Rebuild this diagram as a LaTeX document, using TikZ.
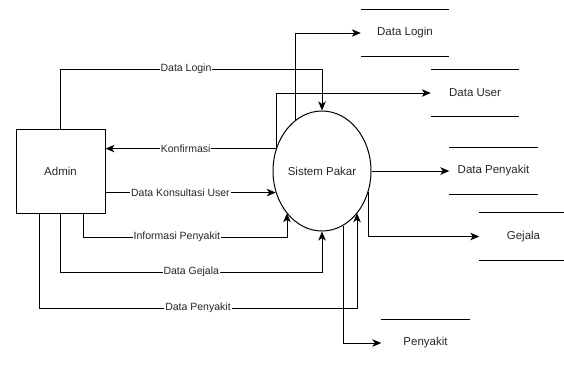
\documentclass[tikz,border=0pt]{standalone}
\usepackage{fontspec}
\setmainfont{Liberation Sans}
\usetikzlibrary{shapes.geometric,arrows.meta,positioning}
\tikzstyle{entity} = [rectangle, draw=black, line width=1pt, minimum width=89pt, minimum height=84pt, text centered, text=black!85, font=\fontsize{11.5}{13}\selectfont]
\tikzstyle{process} = [ellipse, draw=black, line width=1pt, minimum width=98pt, minimum height=120pt, inner sep=0pt, text centered, text=black!85, font=\fontsize{11.5}{13}\selectfont]
\tikzstyle{store} = [rectangle, minimum width=88pt, minimum height=47pt, text centered, text=black!85, font=\fontsize{11.5}{13}\selectfont]
\tikzstyle{flow} = [fill=white, inner sep=1pt, text=black!85, font=\fontsize{10.5}{12}\selectfont]
\tikzstyle{arrow} = [line width=1pt, ->, >={Stealth[length=9pt,width=7.5pt,inset=2.5pt]}]

\begin{document}
\begin{tikzpicture}[x=1pt,y=-1pt]
		\clip (0,0) rectangle (564,365);
		\coordinate (admin) at (60.5,171);
		\coordinate (sistem) at (322,171);
		\coordinate (dlogin) at (405,33);
		\coordinate (duser) at (475,93);
		\coordinate (dpenyakit) at (493.5,171);
		\coordinate (gejala) at (523.5,236.5);
		\coordinate (penyakit) at (425.5,343);
		% bends of the flows from Admin
		\coordinate (loginbend) at (322,69);
		\coordinate (infobend) at (287,237);
		\coordinate (gejalabend) at (322,272);
		\coordinate (penyakitbend) at (357,308);
		% Entity and process
		\node[entity, name=admin] at (admin) {Admin};
		\node[process, name=sistem] at (sistem) {Sistem Pakar};
		% Data stores
		\node[store, name=dlogin] at (dlogin) {Data Login};
		\node[store, name=duser] at (duser) {Data User};
		\node[store, name=dpenyakit] at (dpenyakit) {Data Penyakit};
		\node[store, name=gejala] at (gejala) {Gejala};
		\node[store, name=penyakit] at (penyakit) {Penyakit};
		\foreach \s in {dlogin,duser,dpenyakit,gejala,penyakit}
			\draw[line width=1pt] (\s.north west) -- (\s.north east) (\s.south west) -- (\s.south east);
		% Flows between Admin and Sistem Pakar
		\draw [arrow] (admin.north) |- (loginbend) node[flow, pos=0.74, name=lblogin] {Data Login} -- (sistem.north);
		\draw [arrow] (sistem.154) -- (sistem.154 -| admin.east) node[flow, pos=0.53, name=lbkonf] {Konfirmasi};
		\draw [arrow] (admin.east |- sistem.205) -- (sistem.205) node[flow, pos=0.44, name=lbkons] {Data Konsultasi User};
		\draw [arrow] ([xshift=22.5pt]admin.south) |- (infobend) node[flow, pos=0.73, name=lbinfo] {Informasi Penyakit} -- (infobend |- sistem.230);
		\draw [arrow] (admin.south) |- (gejalabend) node[flow, pos=0.75, name=lbgejala] {Data Gejala} -- (sistem.south);
		\draw [arrow] ([xshift=-21.5pt]admin.south) |- (penyakitbend) node[flow, pos=0.75, name=lbpenyakit] {Data Penyakit} -- (penyakitbend |- sistem.310);
		% Flows to the data stores
		\draw [arrow] (sistem.117) |- (dlogin.west);
		\draw [arrow] (sistem.154) |- (duser.west);
		\draw [arrow] (sistem.east) -- (dpenyakit.west);
		\draw [arrow] (sistem.336) |- (gejala.west);
		\draw [arrow] (sistem.291) |- (penyakit.west);
\end{tikzpicture}
\end{document}
